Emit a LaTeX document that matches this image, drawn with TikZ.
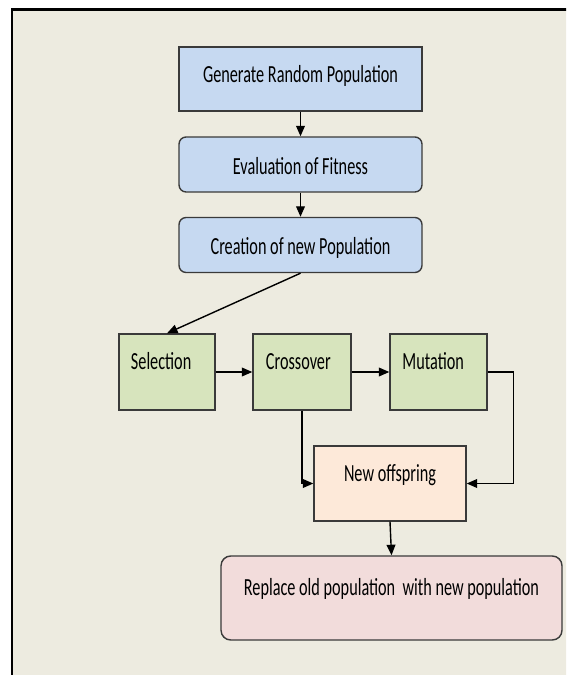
\documentclass[tikz,border=0pt]{standalone}
\usepackage{fontspec}
\setmainfont{Carlito}[FakeStretch=0.66]
\usetikzlibrary{arrows.meta}

\definecolor{paper}{HTML}{EDEBE0}
\definecolor{boxblue}{HTML}{C6D9F1}
\definecolor{boxgreen}{HTML}{D7E4BD}
\definecolor{boxpeach}{HTML}{FDE9D9}
\definecolor{boxpink}{HTML}{F2DCDB}
\definecolor{edge}{HTML}{3A3A3A}

\tikzset{
  box/.style={draw=edge, line width=0.8pt, inner xsep=6.5pt, inner ysep=0pt,
    text height=12pt, font=\fontsize{14pt}{16pt}\selectfont},
  bluebox/.style={box, fill=boxblue, minimum width=4.86cm},
  greenbox/.style={box, fill=boxgreen, text width=41pt, align=left,
    minimum height=1.52cm, text depth=14.4pt},
  flow/.style={-{Triangle[width=5pt,length=6pt]}, line width=0.8pt, black}
}

\begin{document}
\begin{tikzpicture}[x=0.02cm, y=-0.02cm]

% Page and frame
\useasboundingbox (0,0) rectangle (566,675);
\clip (0,0) rectangle (566,675);
\fill[white] (0,0) rectangle (566,675);
\draw[line width=1.3pt, fill=paper] (12,9.5) rectangle (620,720);

% Define the boxes
\node[bluebox, minimum height=1.28cm, text depth=7.6pt] (gen) at (300.5,79) {Generate Random Population};
\node[bluebox, rounded corners=4pt, minimum height=1.1cm, text depth=0.2pt] (eval) at (300.5,164.5) {Evaluation of Fitness};
\node[bluebox, rounded corners=4pt, minimum height=1.1cm, text depth=0.8pt] (creat) at (300.5,245) {Creation of new Population};

\node[greenbox, minimum width=1.92cm] (sel) at (167,372) {Selection};
\node[greenbox, minimum width=1.96cm] (cross) at (302,372) {Crossover};
\node[greenbox, minimum width=1.94cm] (mut) at (438.5,372) {Mutation};

\node[box, fill=boxpeach, minimum width=3.04cm, minimum height=1.5cm, text depth=14.4pt] (off) at (390,483.5) {New offspring};
\node[box, fill=boxpink, rounded corners=5.5pt, minimum width=6.82cm, minimum height=1.68cm, text depth=14.9pt] (repl) at (391.5,598) {Replace old population\ \ with new population};

% Connectors
\draw[flow] (gen) -- (eval);
\draw[flow] (eval) -- (creat);
\draw[flow] (creat.south) -- (sel.north);
\draw[flow] (sel) -- (cross);
\draw[flow] (cross) -- (mut);
\draw[flow] (mut.east) -- ++(26,0) |- (off.east);
\draw[flow] (cross.south) |- (off.west);
\draw[flow] (off.south) -- (repl.north);

\end{tikzpicture}
\end{document}
